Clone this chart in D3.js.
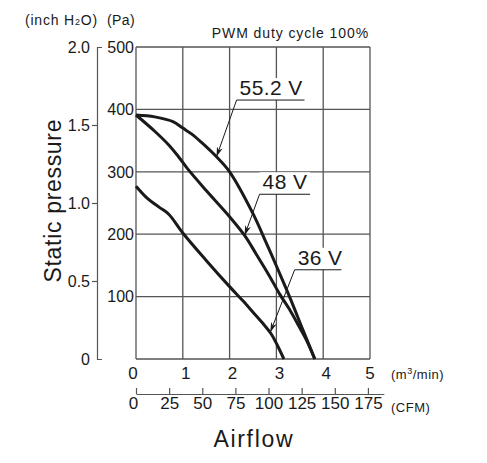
<!DOCTYPE html>
<html lang="en">
<head>
  <meta charset="UTF-8">
  <title>Static pressure vs Airflow</title>
  <script src="https://cdn.jsdelivr.net/npm/d3@7/dist/d3.min.js"></script>
  <style>
    body { margin: 0; background: #fff; }
    text { font-family: "Liberation Sans", Arial, sans-serif; fill: #1a1a1a; }
  </style>
</head>
<body>
  <svg width="487" height="463"></svg>
<script>
  // ---- data (airflow in m3/min, static pressure in Pa) ----
  const flow552 = [0, 0.4, 0.8, 1.0, 1.2, 1.4, 1.72, 2.0, 2.5, 2.79, 3.07, 3.28, 3.57, 3.82];
  const pa552   = [391, 388, 380, 370, 360, 347, 324, 300, 233, 185, 137, 100, 46, 0];
  const flow48  = [0, 0.4, 0.7, 0.9, 1.1, 1.5, 2.0, 2.32, 2.57, 2.86, 3.07, 3.3, 3.5, 3.67, 3.82];
  const pa48    = [391, 365, 343, 325, 305, 270, 228, 198, 168, 132, 104, 77, 50, 26, 0];
  const flow36  = [0, 0.25, 0.5, 0.7, 1.0, 1.5, 2.0, 2.3, 2.5, 2.7, 2.89, 3.02, 3.16];
  const pa36    = [277, 257, 243, 232, 202, 158, 116, 92, 75, 58, 40, 22, 0];

  const seriesNames = ["55.2 V", "48 V", "36 V"];
  // label anchors in data units: arrow tip on curve, start of underline, end of underline
  const tipFlow = [1.72, 2.32, 2.87];
  const tipPa = [324, 198, 43];
  const noteFlow = [2.15, 2.64, 3.39];
  const notePa = [415, 264, 143];
  const noteEnd = [3.6, 3.72, 4.39];

  const flowTicks = [0, 1, 2, 3, 4, 5];
  const cfmTicks = [0, 25, 50, 75, 100, 125, 150, 175];
  const paTicks = [100, 200, 300, 400, 500];
  const inchTicks = [0, 0.5, 1.0, 1.5, 2.0];
  const CFM_PER_M3MIN = 35.315;

  const svg = d3.select("svg");
  const ink = "#1a1a1a";
  const gridColor = "#555";

  const x = d3.scaleLinear().domain([0, 5]).range([136, 370]);
  const y = d3.scaleLinear().domain([0, 500]).range([359, 47]);
  const yIn = d3.scaleLinear().domain([0, 2.0]).range([359, 47]);
  const cfm = d3.scaleLinear().domain([0, 5 * CFM_PER_M3MIN]).range([136, 370]);

  // grid
  const grid = svg.append("g");
  grid.selectAll(".v").data(flowTicks).enter().append("line")
    .attr("x1", d => x(d)).attr("x2", d => x(d))
    .attr("y1", y(0)).attr("y2", y(500))
    .attr("stroke", gridColor).attr("stroke-width", 1.3);
  grid.selectAll(".h").data([0].concat(paTicks)).enter().append("line")
    .attr("x1", x(0)).attr("x2", x(5))
    .attr("y1", d => y(d)).attr("y2", d => y(d))
    .attr("stroke", gridColor).attr("stroke-width", 1.3);

  // Pa labels
  svg.append("g").selectAll("text").data(paTicks).enter().append("text")
    .attr("x", x(0) - 2).attr("y", d => y(d)).attr("dy", "0.36em")
    .attr("text-anchor", "end").attr("font-size", 16)
    .text(d => d);

  // inch H2O axis
  const inchAxis = svg.append("g")
    .attr("transform", "translate(97,0)")
    .call(d3.axisLeft(yIn).tickValues(inchTicks).tickSize(5).tickSizeOuter(-5).tickPadding(2)
      .tickFormat(d => d === 0 ? "0" : d3.format(".1f")(d)));
  inchAxis.selectAll("path").attr("stroke", gridColor).attr("stroke-width", 1.2);
  inchAxis.selectAll(".tick line").attr("stroke", gridColor).attr("stroke-width", 1.2)
    .filter(d => d === 0 || d === 2.0).remove();
  inchAxis.selectAll("text").attr("font-size", 16).attr("fill", ink)
    .attr("font-family", "Liberation Sans, Arial, sans-serif");

  // m3/min labels
  svg.append("g").selectAll("text").data(flowTicks).enter().append("text")
    .attr("x", d => x(d) + (d === 0 ? -3 : d === 5 ? 0 : 3)).attr("y", 379)
    .attr("text-anchor", "middle").attr("font-size", 17)
    .text(d => d);
  svg.append("text").attr("x", 391).attr("y", 379).attr("font-size", 13)
    .attr("letter-spacing", 0.5)
    .html("(m<tspan font-size='9' dy='-5'>3</tspan><tspan dy='5'>/min)</tspan>");

  // CFM axis
  const cfmAxisScale = cfm.copy().domain([0, 187]).range([cfm(0), cfm(187)]);
  const cfmAxis = svg.append("g")
    .attr("transform", "translate(0,394)")
    .call(d3.axisBottom(cfmAxisScale).tickValues(cfmTicks).tickSize(-6).tickSizeOuter(0).tickPadding(3));
  cfmAxis.selectAll("path").attr("stroke", gridColor).attr("stroke-width", 1.2);
  cfmAxis.selectAll(".tick line").attr("stroke", gridColor).attr("stroke-width", 1.2);
  cfmAxis.selectAll("text").attr("font-size", 17).attr("fill", ink)
    .attr("font-family", "Liberation Sans, Arial, sans-serif")
    .attr("dx", d => d === 0 ? -3 : 0);
  svg.append("text").attr("x", 391).attr("y", 412).attr("font-size", 13)
    .attr("letter-spacing", 0.5).text("(CFM)");

  // axis titles
  svg.append("text").attr("x", 253).attr("y", 447).attr("text-anchor", "middle")
    .attr("font-size", 23).attr("textLength", 79).attr("lengthAdjust", "spacing")
    .text("Airflow");
  svg.append("text")
    .attr("transform", "translate(61,201) rotate(-90)")
    .attr("text-anchor", "middle").attr("font-size", 23)
    .attr("textLength", 163).attr("lengthAdjust", "spacing")
    .text("Static pressure");

  // unit headers
  svg.append("text").attr("x", 25).attr("y", 25).attr("font-size", 14)
    .attr("letter-spacing", 0.8)
    .html("(inch H<tspan font-size='9'>2</tspan>O)");
  svg.append("text").attr("x", 107).attr("y", 25).attr("font-size", 14)
    .attr("letter-spacing", 0.4).text("(Pa)");
  svg.append("text").attr("x", 369).attr("y", 38).attr("font-size", 14)
    .attr("text-anchor", "end").attr("letter-spacing", 0.9)
    .text("PWM duty cycle 100%");

  // curves
  const line = d3.line().x(d => x(d[0])).y(d => y(d[1])).curve(d3.curveCatmullRom.alpha(0.5));
  const curves = [
    d3.zip(flow552, pa552),
    d3.zip(flow48, pa48),
    d3.zip(flow36, pa36)
  ];
  svg.append("g").selectAll("path").data(curves).enter().append("path")
    .attr("d", line).attr("fill", "none")
    .attr("stroke", ink).attr("stroke-width", 3).attr("stroke-linejoin", "round");

  // arrow marker
  svg.append("defs").append("marker")
    .attr("id", "arrow").attr("markerUnits", "userSpaceOnUse")
    .attr("viewBox", "0 0 10 6").attr("refX", 10).attr("refY", 3)
    .attr("markerWidth", 10).attr("markerHeight", 6).attr("orient", "auto")
    .append("path").attr("d", "M0,0 L10,3 L0,6 L3,3 z").attr("fill", ink);

  // labels with leaders
  const notes = svg.append("g");
  seriesNames.forEach((name, i) => {
    const ux = x(noteFlow[i]), uy = y(notePa[i]), ue = x(noteEnd[i]);
    notes.append("rect")
      .attr("x", ux).attr("y", uy - 22)
      .attr("width", ue - ux).attr("height", 22).attr("fill", "#fff");
    notes.append("line")
      .attr("x1", ux).attr("y1", uy).attr("x2", ue).attr("y2", uy)
      .attr("stroke", ink).attr("stroke-width", 1);
    notes.append("line")
      .attr("x1", ux).attr("y1", uy)
      .attr("x2", x(tipFlow[i])).attr("y2", y(tipPa[i]))
      .attr("stroke", ink).attr("stroke-width", 1)
      .attr("marker-end", "url(#arrow)");
    notes.append("text")
      .attr("x", ux + 3).attr("y", uy - 5)
      .attr("font-size", 21).attr("letter-spacing", 0.4)
      .text(name);
  });
</script>
</body>
</html>
